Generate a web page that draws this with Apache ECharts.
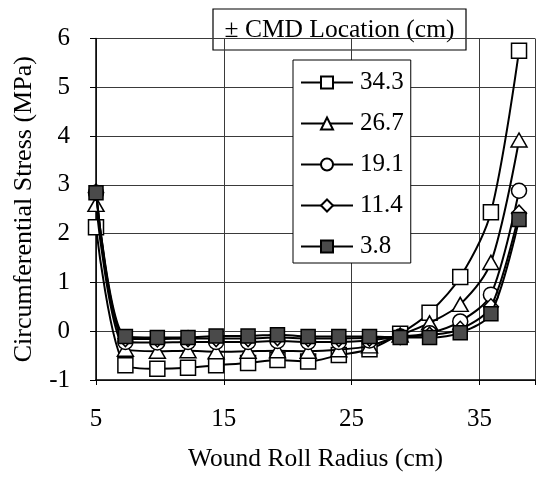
<!DOCTYPE html>
<html>
<head>
<meta charset="utf-8">
<style>
  html, body { margin: 0; padding: 0; background: #fff; overflow: hidden; }
  #chart { width: 538px; height: 477px; }
</style>
<script src="https://cdn.jsdelivr.net/npm/echarts@6/dist/echarts.min.js"></script>
</head>
<body>
<div id="chart"></div>
<script>
// Wound roll radius (cm) at each measurement station
var radius = [5.0, 7.3, 9.8, 12.2, 14.4, 16.9, 19.2, 21.6, 24.0, 26.4, 28.8, 31.1, 33.5, 35.9, 38.1];

// Circumferential stress (MPa) for each CMD location
var cmd34_3 = [2.13, -0.70, -0.77, -0.75, -0.70, -0.65, -0.59, -0.62, -0.49, -0.37, -0.05, 0.38, 1.11, 2.44, 5.75];
var cmd26_7 = [2.60, -0.37, -0.41, -0.40, -0.42, -0.41, -0.40, -0.41, -0.38, -0.30, -0.08, 0.17, 0.55, 1.41, 3.92];
var cmd19_1 = [2.84, -0.22, -0.23, -0.22, -0.22, -0.22, -0.20, -0.22, -0.22, -0.19, -0.11, -0.04, 0.20, 0.75, 2.88];
var cmd11_4 = [2.85, -0.15, -0.16, -0.15, -0.15, -0.15, -0.13, -0.15, -0.15, -0.14, -0.11, -0.08, 0.04, 0.50, 2.42];
var cmd3_8  = [2.84, -0.11, -0.13, -0.13, -0.10, -0.10, -0.07, -0.11, -0.11, -0.11, -0.13, -0.13, -0.03, 0.36, 2.29];

var seriesNames = ['34.3', '26.7', '19.1', '11.4', '3.8'];
var seriesValues = [cmd34_3, cmd26_7, cmd19_1, cmd11_4, cmd3_8];

var xTicks = [5, 15, 25, 35];
var legendTitle = '\u00B1 CMD Location (cm)';

var FONT = '"Liberation Serif", "Times New Roman", Times, serif';

var markers = [
  { symbol: 'rect', size: 15, fill: '#ffffff' },
  { symbol: 'triangle', size: [16, 14], fill: '#ffffff' },
  { symbol: 'circle', size: 15, fill: '#ffffff' },
  { symbol: 'diamond', size: [15, 16], fill: '#ffffff' },
  { symbol: 'rect', size: 14, fill: '#4a4a4a' }
];

function pairs(xs, ys) {
  var out = [];
  for (var i = 0; i < xs.length; i++) out.push([xs[i], ys[i]]);
  return out;
}

var series = seriesNames.map(function (name, i) {
  var m = markers[i];
  return {
    name: name,
    type: 'line',
    data: pairs(radius, seriesValues[i]),
    smooth: 0.3,
    symbol: m.symbol,
    symbolSize: m.size,
    showAllSymbol: true,
    lineStyle: { color: '#000', width: 2 },
    itemStyle: { color: m.fill, borderColor: '#000', borderWidth: 1.5, opacity: 1 },
    emphasis: { disabled: true },
    z: 2 + i
  };
});

var chart = echarts.init(document.getElementById('chart'), null, { renderer: 'canvas' });

chart.setOption({
  animation: false,
  backgroundColor: '#ffffff',
  textStyle: { fontFamily: FONT, color: '#000' },
  grid: { left: 96, right: 0, top: 38.5, bottom: 96.3, containLabel: false },
  xAxis: {
    type: 'value',
    min: 5,
    max: 39.35,
    interval: 10,
    name: 'Wound Roll Radius (cm)',
    nameLocation: 'middle',
    nameGap: 66,
    nameTextStyle: { fontFamily: FONT, fontSize: 25.5, color: '#000' },
    axisLine: { show: true, onZero: false, lineStyle: { color: '#000', width: 1.5 } },
    axisTick: { show: true, length: 5, lineStyle: { color: '#000', width: 1 } },
    axisLabel: {
      fontFamily: FONT, fontSize: 25, color: '#000', margin: 27,
      formatter: function (v) { return xTicks.indexOf(v) >= 0 ? String(v) : ''; }
    },
    splitLine: { show: true, lineStyle: { color: '#3a3a3a', width: 1 } }
  },
  yAxis: {
    type: 'value',
    min: -1,
    max: 6,
    interval: 1,
    name: 'Circumferential Stress (MPa)',
    nameLocation: 'middle',
    nameGap: 59,
    nameTextStyle: { fontFamily: FONT, fontSize: 26, color: '#000' },
    axisLine: { show: true, lineStyle: { color: '#000', width: 1.5 } },
    axisTick: { show: true, length: 6, lineStyle: { color: '#000', width: 1 } },
    axisLabel: { fontFamily: FONT, fontSize: 25, color: '#000', margin: 26 },
    splitLine: { show: true, lineStyle: { color: '#3a3a3a', width: 1 } }
  },
  legend: {
    data: seriesNames,
    orient: 'vertical',
    left: 293,
    top: 60,
    padding: [10, 7, 4, 7],
    itemWidth: 52,
    itemHeight: 15,
    itemGap: 16,
    backgroundColor: '#ffffff',
    borderColor: '#000',
    borderWidth: 1,
    borderRadius: 0,
    selectedMode: false,
    textStyle: { fontFamily: FONT, fontSize: 25, color: '#000', padding: [0, 0, 0, 2] }
  },
  graphic: [
    {
      type: 'group',
      z: 100,
      children: [
        {
          type: 'rect',
          shape: { x: 213, y: 9, width: 253, height: 41 },
          style: { fill: '#ffffff', stroke: '#000', lineWidth: 1.2 }
        },
        {
          type: 'text',
          x: 339.5,
          y: 30,
          style: {
            text: legendTitle,
            font: '25.5px "Liberation Serif", "Times New Roman", serif',
            fill: '#000',
            align: 'center',
            verticalAlign: 'middle'
          }
        }
      ]
    }
  ],
  series: series
});
</script>
</body>
</html>
